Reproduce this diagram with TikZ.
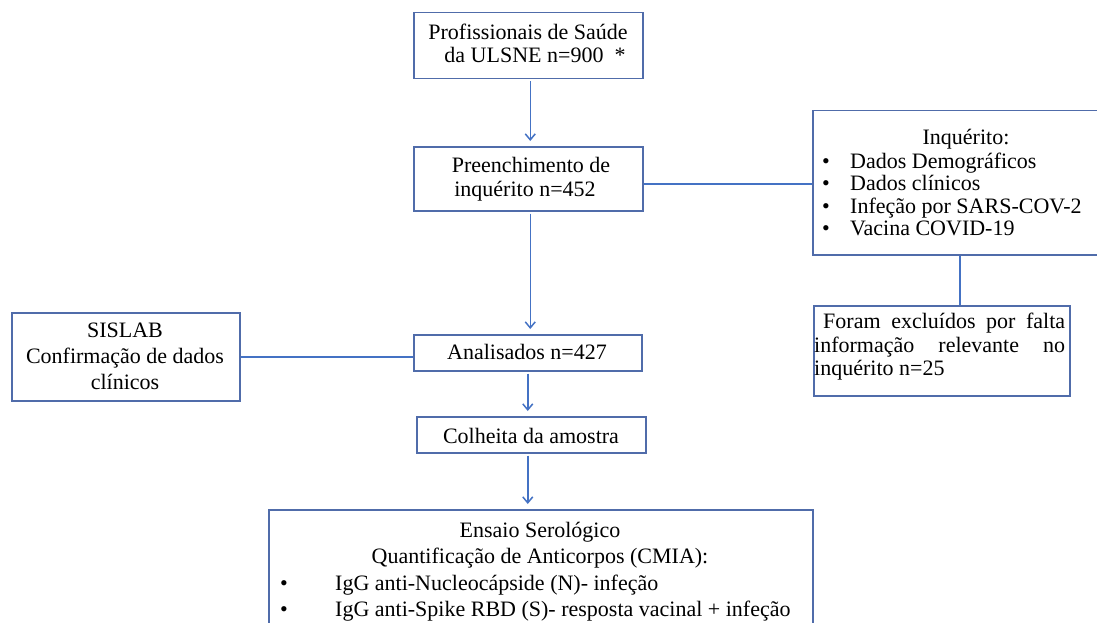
\documentclass[tikz,border=0pt]{standalone}
\usepackage{fontspec}
\setmainfont{Liberation Serif}
\usetikzlibrary{arrows.meta,calc}
\definecolor{lineblue}{RGB}{68,114,196}
\definecolor{boxblue}{RGB}{80,108,170}
\begin{document}
\begin{tikzpicture}[x=1pt,y=-1pt,
  box/.style={draw=boxblue, line width=1.5pt, rectangle, inner sep=0pt, anchor=north west},
  conn/.style={draw=lineblue, line width=1.5pt},
  arr/.style={conn, -{Straight Barb[length=6pt,width=10pt]}, shorten >=5pt, shorten <=2pt},
  txt/.style={inner sep=0pt, anchor=base, font=\fontsize{22}{25}\selectfont},
  ltxt/.style={txt, anchor=base west}]
\useasboundingbox (0,0) rectangle (1097,623);
\fill[white] (0,0) rectangle (1097,623);

% boxes
\node[box, minimum width=229pt, minimum height=66pt] (b1) at (413,12) {};
\node[box, minimum width=229pt, minimum height=64pt] (b2) at (413,146) {};
\node[box, minimum width=294pt, minimum height=144pt] (inq) at (812,110) {};
\node[box, minimum width=256pt, minimum height=90pt] (foram) at (813,305) {};
\node[box, minimum width=228pt, minimum height=88pt] (sislab) at (11,312) {};
\node[box, minimum width=228pt, minimum height=36pt] (anal) at (413,334) {};
\node[box, minimum width=229pt, minimum height=36pt] (colh) at (416,416) {};
\node[box, minimum width=544pt, minimum height=140pt] (ensaio) at (268,509) {};

% texts
\node[txt] (b1a) at (528,40) {Profissionais de Saúde};
\node[txt] (b1b) at (535,63) {da ULSNE n=900\ \ *};
\node[txt] (b2a) at (531,172) {Preenchimento de};
\node[txt] (b2b) at (525,196) {inquérito n=452};

\node[txt] (inqt) at (966,145) {Inquérito:};
\node[txt] (inqb1) at (826,168) {•};
\node[ltxt] (inq1) at (850,168) {Dados Demográficos};
\node[txt] (inqb2) at (826,190) {•};
\node[ltxt] (inq2) at (850,190) {Dados clínicos};
\node[txt] (inqb3) at (826,213) {•};
\node[ltxt] (inq3) at (850,213) {Infeção por SARS-COV-2};
\node[txt] (inqb4) at (826,235) {•};
\node[ltxt] (inq4) at (850,235) {Vacina COVID-19};

\node[ltxt] (fo1) at (823,328) {\makebox[242pt][s]{Foram excluídos por falta}};
\node[ltxt] (fo2) at (814,352) {\makebox[251pt][s]{informação relevante no}};
\node[ltxt] (fo3) at (814,375) {inquérito n=25};

\node[txt] (si1) at (125,337) {SISLAB};
\node[txt] (si2) at (125,363) {Confirmação de dados};
\node[txt] (si3) at (125,389) {clínicos};

\node[txt] (an) at (527,359) {Analisados n=427};
\node[txt] (co) at (531,443) {Colheita da amostra};

\node[txt] (en1) at (540,537) {Ensaio Serológico};
\node[txt] (en2) at (540,563) {Quantificação de Anticorpos (CMIA):};
\node[txt] (enb1) at (284,590) {•};
\node[ltxt] (en3) at (335,590) {IgG anti-Nucleocápside (N)- infeção};
\node[txt] (enb2) at (284,616) {•};
\node[ltxt] (en4) at (335,616) {IgG anti-Spike RBD (S)- resposta vacinal + infeção};

% connectors
\draw[arr] ($(b1.south)+(2,0)$) -- ($(b2.north)+(2,0)$);
\draw[arr] ($(b2.south)+(2,0)$) -- ($(b2.south |- anal.north)+(2,0)$);
\draw[conn] ($(b2.east)+(0,5)$) -- ($(b2.east -| inq.west)+(0,5)$);
\draw[conn] (inq.south) -- (inq.south |- foram.north);
\draw[conn] (sislab.east) -- (sislab.east -| anal.west);
\draw[arr] (anal.south) -- (anal.south |- colh.north);
\draw[arr] (anal.south |- colh.south) -- (anal.south |- ensaio.north);
\end{tikzpicture}
\end{document}
